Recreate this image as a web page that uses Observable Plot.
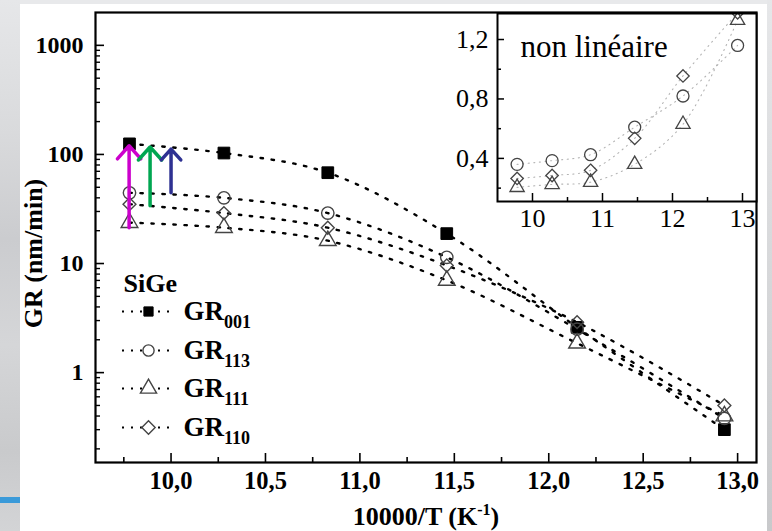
<!DOCTYPE html>
<html><head><meta charset="utf-8">
<script src="https://cdn.jsdelivr.net/npm/d3@7"></script>
<script src="https://cdn.jsdelivr.net/npm/@observablehq/plot@0.6"></script>
<style>
html,body{margin:0;padding:0;background:#e8e9eb;}
#wrap{position:relative;width:772px;height:531px;background:#e8e9eb;overflow:hidden;}
#strip{position:absolute;left:0;top:0;width:20px;height:531px;background:linear-gradient(180deg,#e6e7e9 0%,#d9dadc 25%,#cbcccf 45%,#d5d6d8 65%,#c9cacc 85%,#d3d4d6 100%);}
#blue{position:absolute;left:0;top:497px;width:20px;height:6px;background:#3a9ad9;}
#rstrip{position:absolute;left:767px;top:0;width:5px;height:531px;background:linear-gradient(180deg,#e6e7e9,#d4d5d7 60%,#c8c9cb);}
#panel{position:absolute;left:20px;top:4px;width:747px;height:527px;background:#fff;}
#main,#inset{position:absolute;left:0;top:0;}
#inset{left:440px;}
#wrap svg text{font-family:"Liberation Serif","Times New Roman",serif;}
</style></head>
<body><div id="wrap"><div id="strip"></div><div id="blue"></div><div id="rstrip"></div><div id="panel"></div><div id="main"></div><div id="inset"></div></div>
<script>
// ---------- data ----------
const invT = [9.78, 10.28, 10.83, 11.46, 12.15, 12.93];          // 10000/T (K^-1)
const gr001 = [125, 103, 68, 18.8, 2.6, 0.30];
const gr113 = [44.5, 40, 29, 11.4, 2.5, 0.38];
const gr111 = [23.7, 21.3, 16.2, 7.0, 1.86, 0.40];
const gr110 = [35, 29, 21.3, 9.6, 2.9, 0.50];

const insetGR113 = [0.36, 0.385, 0.425, 0.61, 0.82, 1.16];
const insetGR111 = [0.205, 0.225, 0.24, 0.36, 0.63, 1.33];
const insetGR110 = [0.265, 0.285, 0.32, 0.535, 0.955, 1.38];

const arrowX = [9.778, 9.889, 10.0];
const arrowFrom = [21.3, 33.9, 44.5];
const arrowTo = [120, 117, 112];
const arrowColors = ["#cc00cc", "#00a651", "#2e3192"];

const xTicks = [10, 10.5, 11, 11.5, 12, 12.5, 13];
const xMinorTicks = [9.75, 10.25, 10.75, 11.25, 11.75, 12.25, 12.75];
const yTicks = [1, 10, 100, 1000];
const insetXTicks = [10, 11, 12, 13];
const insetXMinor = [10.5, 11.5, 12.5];
const insetYTicks = [0.4, 0.8, 1.2];
const insetYMinor = [0.2, 0.6, 1.0];

const seriesKeys = ["001", "113", "111", "110"];
const seriesSymbols = ["square", "circle", "triangle", "diamond2"];

// ---------- helpers ----------
const serif = "Liberation Serif";
const yMinorTicks = [];
for (let e = -1; e <= 3; e++) for (let m = 2; m <= 9; m++) {
  const v = m * Math.pow(10, e);
  if (v > 0.15 && v < 2000) yMinorTicks.push(v);
}
const comma = (d, n) => d.toFixed(n).replace(".", ",");
const mainValues = [gr001, gr113, gr111, gr110];
const rows = seriesKeys.flatMap((k, s) => mainValues[s].map((v, i) => ({x: invT[i], y: v, key: k})));
const insetValues = {"113": insetGR113, "111": insetGR111, "110": insetGR110};
const insetRows = Object.entries(insetValues).flatMap(([k, vals]) => vals.map((v, i) => ({x: invT[i], y: v, key: k})));
const arrows = arrowX.map((x, i) => ({x, from: arrowFrom[i], to: arrowTo[i], color: arrowColors[i]}));

const W = 772, H = 531;
const M = {left: 95, right: 16, top: 12, bottom: 69};
const xDomain = [9.6, 13.1], yDomain = [0.15, 2000];
const xs = Plot.scale({x: {domain: xDomain, range: [M.left, W - M.right]}});
const ys = Plot.scale({y: {type: "log", domain: yDomain, range: [H - M.bottom, M.top]}});

const symStyle = (s) => s === "square"
  ? {fill: "black", stroke: "black", strokeWidth: 1}
  : {fill: "none", stroke: "#444", strokeWidth: 1.4};
const symR = {square: 6.6, circle: 6.2, triangle: 6.2, diamond2: 5.8};

// legend rows (pixel layout converted through the scales)
const legendPx = [311, 350, 388, 427];
const legendMarks = seriesKeys.flatMap((k, i) => {
  const y = ys.invert(legendPx[i]);
  const sym = seriesSymbols[i];
  return [
    Plot.ruleY([y], {x1: xs.invert(122), x2: xs.invert(175), stroke: "black", strokeWidth: 2.2, strokeDasharray: "2,7"}),
    Plot.dot([y], {x: xs.invert(148), y: d => d, symbol: sym, r: sym === "square" ? 5.2 : sym === "circle" ? 5.6 : 6, ...(sym === "square" ? symStyle(sym) : {fill: "white", stroke: "#444", strokeWidth: 1.4})}),
    Plot.text([`GR_{${k}}`], {x: xs.invert(183), y: ys.invert(legendPx[i]), textAnchor: "start", lineAnchor: "middle", fontSize: 27, fontWeight: "bold", fontFamily: serif, fill: "black"})
  ];
});

const mainMarks = [
  Plot.line(rows, {x: "x", y: "y", z: "key", curve: "catmull-rom", stroke: "black", strokeWidth: 2.4, strokeDasharray: "2.4,8.6"}),
  ...seriesKeys.map((k, i) => Plot.dot(rows.filter(d => d.key === k), {x: "x", y: "y", symbol: seriesSymbols[i], r: symR[seriesSymbols[i]], ...symStyle(seriesSymbols[i])})),
  ...arrows.map(a => Plot.arrow([a], {x1: "x", x2: "x", y1: "from", y2: "to", stroke: a.color, strokeWidth: 3.5, headLength: 7.5, headAngle: 84})),
  Plot.frame({stroke: "black", strokeWidth: 2.2}),
  Plot.axisX(xTicks, {tickSize: 0, tickPadding: 9, tickFormat: d => comma(d, 1), fontSize: 24.5, fontWeight: "bold", fontFamily: serif, label: null}),
  Plot.axisX(xTicks, {tickSize: 9, dy: -9, fill: "none", strokeWidth: 1.6, label: null}),
  Plot.axisX(xMinorTicks, {tickSize: 5, dy: -5, fill: "none", strokeWidth: 1.6, label: null}),
  Plot.axisY(yTicks, {tickSize: 0, tickPadding: 12, tickFormat: d => String(d), fontSize: 24, fontWeight: "bold", fontFamily: serif, label: null}),
  Plot.axisY(yTicks, {tickSize: 9, dx: 9, fill: "none", strokeWidth: 1.6, label: null}),
  Plot.axisY(yMinorTicks, {tickSize: 5, dx: 5, fill: "none", strokeWidth: 1.4, label: null}),
  Plot.text(["GR (nm/min)"], {frameAnchor: "left", textAnchor: "middle", lineAnchor: "middle", rotate: -90, dx: -62, dy: 16, fontSize: 26, fontWeight: "bold", fontFamily: serif, fill: "black"}),
  Plot.text(["10000/T (K^{-1})"], {frameAnchor: "bottom", textAnchor: "middle", lineAnchor: "middle", dy: 54, fontSize: 26, fontWeight: "bold", fontFamily: serif, fill: "black"}),
  Plot.text(["SiGe"], {x: xs.invert(123), y: ys.invert(283), textAnchor: "start", lineAnchor: "middle", fontSize: 26, fontWeight: "bold", fontFamily: serif, fill: "black"}),
  ...legendMarks
];

const main = Plot.plot({
  width: W, height: H,
  marginLeft: M.left, marginRight: M.right, marginTop: M.top, marginBottom: M.bottom,
  style: {background: "transparent", overflow: "visible"},
  x: {domain: xDomain},
  y: {type: "log", domain: yDomain},
  marks: mainMarks
});

// inset
const IW = 332, IH = 240;
const inset = Plot.plot({
  width: IW, height: IH,
  marginLeft: 57, marginRight: 16, marginTop: 13, marginBottom: 39,
  style: {background: "transparent", overflow: "visible"},
  x: {domain: [9.5, 13.2]},
  y: {domain: [0.11, 1.375]},
  marks: [
    Plot.frame({fill: "white", stroke: "none"}),
    Plot.line(insetRows, {x: "x", y: "y", z: "key", curve: "catmull-rom", stroke: "#b4b4b4", strokeWidth: 1.1, strokeDasharray: "1.1,4.5", clip: true}),
    ...["113", "111", "110"].map(k => {
      const sym = seriesSymbols[seriesKeys.indexOf(k)];
      return Plot.dot(insetRows.filter(d => d.key === k), {x: "x", y: "y", symbol: sym, r: sym === "circle" ? 6 : sym === "triangle" ? 5.3 : 5.6, fill: "none", stroke: "#444", strokeWidth: 1.3, clip: true});
    }),
    Plot.frame({stroke: "black", strokeWidth: 2}),
    Plot.axisX(insetXTicks, {tickSize: 0, tickPadding: 7, fontSize: 26, fontFamily: serif, label: null}),
    Plot.axisX(insetXTicks, {tickSize: 8, dy: -8, fill: "none", strokeWidth: 1.5, label: null}),
    Plot.axisX(insetXMinor, {tickSize: 4, dy: -4, fill: "none", strokeWidth: 1.5, label: null}),
    Plot.axisY(insetYTicks, {tickSize: 0, tickPadding: 9, tickFormat: d => comma(d, 1), fontSize: 26, fontFamily: serif, label: null}),
    Plot.axisY(insetYTicks, {tickSize: 7, dx: 7, fill: "none", strokeWidth: 1.5, label: null}),
    Plot.axisY(insetYMinor, {tickSize: 4, dx: 4, fill: "none", strokeWidth: 1.5, label: null}),
    Plot.text(["non linéaire"], {frameAnchor: "top-left", textAnchor: "start", lineAnchor: "middle", dx: 23, dy: 34, fontSize: 31, fontFamily: serif, fill: "black"})
  ]
});

// rich text: _{sub} and ^{sup}
function richify(svg) {
  svg.querySelectorAll("text").forEach(t => {
    const s = t.textContent;
    if (!/[_^]\{/.test(s)) return;
    while (t.firstChild) t.removeChild(t.firstChild);
    const re = /([_^])\{([^}]*)\}|([^_^]+)/g;
    let m, shift = 0;
    while ((m = re.exec(s))) {
      const ts = document.createElementNS("http://www.w3.org/2000/svg", "tspan");
      if (m[3] !== undefined) {
        ts.textContent = m[3];
        if (shift) ts.setAttribute("dy", -shift);
        shift = 0;
      } else {
        const d = m[1] === "_" ? 8 : -10;
        ts.textContent = m[2];
        ts.setAttribute("dy", d - shift);
        ts.setAttribute("font-size", m[1] === "_" ? 18 : 16);
        shift = d;
      }
      t.appendChild(ts);
    }
  });
}
richify(main);
document.getElementById("main").appendChild(main);
document.getElementById("inset").appendChild(inset);
</script>
</body></html>
